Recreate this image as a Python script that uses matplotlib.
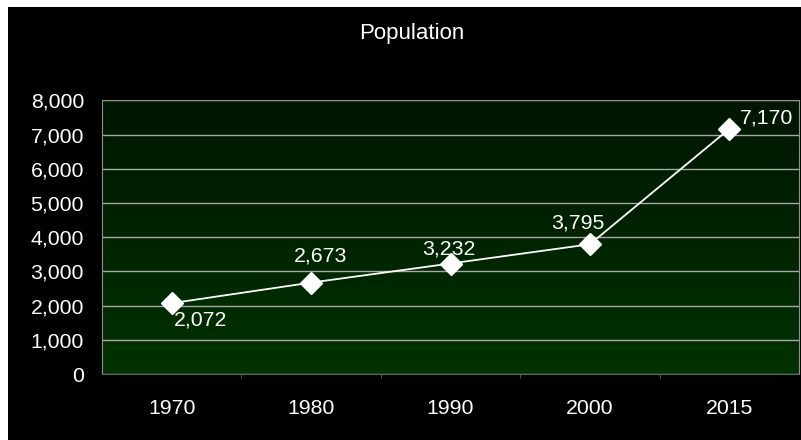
import matplotlib.pyplot as plt
import numpy as np
from matplotlib.patches import Rectangle

plt.rcParams['font.family'] = ['Liberation Sans', 'DejaVu Sans']

years = ['1970', '1980', '1990', '2000', '2015']
population = [2072, 2673, 3232, 3795, 7170]
y_ticks = [0, 1000, 2000, 3000, 4000, 5000, 6000, 7000, 8000]
# label offsets in pixels (dx, dy)
label_offsets = [(29, -17), (9, 27), (-2, 15), (-12, 21), (37, 11)]

fig = plt.figure(figsize=(8.01, 4.40), dpi=100, facecolor='white')
# black chart frame
fig.patches.append(Rectangle((8 / 801, 0), 1, 1 - 7 / 440, transform=fig.transFigure,
                             facecolor='black', edgecolor='none', zorder=-1))

ax = fig.add_axes([102 / 801, 66 / 440, 697 / 801, 273.5 / 440])
ax.set_facecolor('none')

# dark green gradient, darker at top
grad = np.linspace(0, 1, 256).reshape(-1, 1)
top = np.array([0, 22, 0]) / 255
bot = np.array([0, 50, 0]) / 255
img = top + (bot - top) * grad[:, :, None]
ax.imshow(img, extent=[0, 1, 0, 1], transform=ax.transAxes, aspect='auto',
          zorder=0, origin='upper')

x = np.arange(len(years))
ax.set_xlim(-0.5, len(years) - 0.5)
ax.set_ylim(0, 8000)
ax.set_yticks(y_ticks)
ax.set_yticklabels([f'{v:,}' for v in y_ticks])
ax.set_xticks(x)
ax.set_xticklabels(years)
ax.set_xticks(np.arange(0.5, len(years) - 0.5), minor=True)

ax.grid(axis='y', color='#a8a8a8', linewidth=1, zorder=1)
ax.set_axisbelow(True)

ax.plot(x, population, color='white', linewidth=1.3, marker='D', markersize=11,
        markerfacecolor='white', markeredgecolor='white', zorder=3)

for xi, v, (dx, dy) in zip(x, population, label_offsets):
    ax.annotate(f'{v:,}', (xi, v), xytext=(dx, dy), textcoords='offset pixels',
                ha='center', va='center', color='white', fontsize=15.3, zorder=4)

ax.spines['top'].set_color('#909090')
ax.spines['left'].set_color('#909090')
ax.spines['bottom'].set_color('#606060')
ax.spines['right'].set_color('#909090')

ax.tick_params(axis='y', length=0, colors='white', labelsize=15.3, pad=13)
ax.tick_params(axis='x', which='major', length=0, colors='white', labelsize=15.3, pad=18)
ax.tick_params(axis='x', which='minor', length=3, color='#606060')

fig.text(412 / 801, 1 - 34 / 440, 'Population', ha='center', va='center',
         color='white', fontsize=16)

fig.savefig('out.png', dpi=100, facecolor=fig.get_facecolor())
